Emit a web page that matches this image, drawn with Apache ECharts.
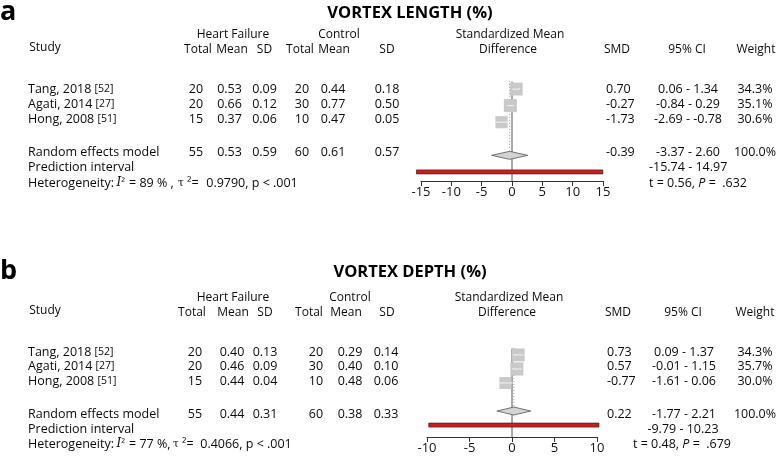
<!DOCTYPE html>
<html><head><meta charset="utf-8">
<script src="https://cdn.jsdelivr.net/npm/echarts@6/dist/echarts.min.js"></script>
<style>html,body{margin:0;padding:0;background:#fff}#c{width:780px;height:456px}</style>
</head><body><div id="c"></div><script>
// ---------- DATA ----------
const studyNames = ['Tang, 2018', 'Agati, 2014', 'Hong, 2008'];
const studyRefs = ['[52]', '[27]', '[51]'];

// Panel a: VORTEX LENGTH (%)
const lenHfTotal = [20, 20, 15];
const lenHfMean = [0.53, 0.66, 0.37];
const lenHfSD = [0.09, 0.12, 0.06];
const lenCtTotal = [20, 30, 10];
const lenCtMean = [0.44, 0.77, 0.47];
const lenCtSD = [0.18, 0.50, 0.05];
const lenSMD = [0.70, -0.27, -1.73];
const lenLo = [0.06, -0.84, -2.69];
const lenHi = [1.34, 0.29, -0.78];
const lenWeight = [34.3, 35.1, 30.6];
const lenPooledRow = [55, 0.53, 0.59, 60, 0.61, 0.57];
const lenPooled = [-0.39, -3.37, 2.60];
const lenPred = [-15.74, 14.97];
const lenTest = ['0.56', '.632'];
const lenHet = ['89', '0.9790', '< .001'];
const lenTicks = [-15, 15, 5];

// Panel b: VORTEX DEPTH (%)
const depHfTotal = [20, 20, 15];
const depHfMean = [0.40, 0.46, 0.44];
const depHfSD = [0.13, 0.09, 0.04];
const depCtTotal = [20, 30, 10];
const depCtMean = [0.29, 0.40, 0.48];
const depCtSD = [0.14, 0.10, 0.06];
const depSMD = [0.73, 0.57, -0.77];
const depLo = [0.09, -0.01, -1.61];
const depHi = [1.37, 1.15, 0.06];
const depWeight = [34.3, 35.7, 30.0];
const depPooledRow = [55, 0.44, 0.31, 60, 0.38, 0.33];
const depPooled = [0.22, -1.77, 2.21];
const depPred = [-9.79, 10.23];
const depTest = ['0.48', '.679'];
const depHet = ['77', '0.4066', '< .001'];
const depTicks = [-10, 10, 5];

// ---------- LAYOUT ----------
const FF = '"Open Sans", sans-serif';
const FS = 12.5;
const HFS = 12;
const INK = '#0a0a0a';
const panels = [
  { letter: 'a', title: 'VORTEX LENGTH (%)', letterY: 12, titleY: 13, h1: 35, h2: 50,
    rowsY: [89, 104, 119, 152, 167, 183],
    grid: { left: 421, width: 182, top: 75, height: 106 }, yMin: -0.85, yMax: 5.55,
    het: [113, 116.5, 129, 178, 203], hetSep: ' % ,',
    cols: { hfT: 196, hfM: 229.5, hfS: 264.5, ctT: 302, ctM: 333, ctS: 387, hfHead: 233, ctHead: 339,
            hfTH: 198, hfMH: 232, hfSH: 264.5, ctTH: 300, ctMH: 334, ctSH: 387,
            smd: 606, ci: 688, w: 755, smdH: 617, ciH: 687, wH: 756, sdmH: 510, predX: 649, testX: 649, testAlign: 'left' },
    d: { hfT: lenHfTotal, hfM: lenHfMean, hfS: lenHfSD, ctT: lenCtTotal, ctM: lenCtMean, ctS: lenCtSD,
         smd: lenSMD, lo: lenLo, hi: lenHi, w: lenWeight, pr: lenPooledRow, pooled: lenPooled, pred: lenPred,
         test: lenTest, het: lenHet, ticks: lenTicks } },
  { letter: 'b', title: 'VORTEX DEPTH (%)', letterY: 271, titleY: 272, h1: 298, h2: 313,
    rowsY: [352, 366, 381, 414, 429, 444],
    grid: { left: 427, width: 170, top: 343, height: 94 }, yMin: -0.85, yMax: 5.85,
    het: [113, 116.5, 129, 173, 197], hetSep: ' %,',
    cols: { hfT: 195, hfM: 232, hfS: 265, ctT: 316, ctM: 350, ctS: 386, hfHead: 233, ctHead: 350,
            hfTH: 192, hfMH: 233, hfSH: 265, ctTH: 309, ctMH: 346, ctSH: 387,
            smd: 607, ci: 684, w: 755, smdH: 618, ciH: 683, wH: 755, sdmH: 509, predX: 683, testX: 682, testAlign: 'center' },
    d: { hfT: depHfTotal, hfM: depHfMean, hfS: depHfSD, ctT: depCtTotal, ctM: depCtMean, ctS: depCtSD,
         smd: depSMD, lo: depLo, hi: depHi, w: depWeight, pr: depPooledRow, pooled: depPooled, pred: depPred,
         test: depTest, het: depHet, ticks: depTicks } }
];

const f2 = v => v.toFixed(2);
function txt(x, y, text, opts) {
  opts = opts || {};
  return { type: 'text', x: x, y: y, silent: true,
    style: { text: text, fill: opts.fill || INK, font: opts.font || (FS + 'px ' + FF),
      textAlign: opts.align || 'center', textVerticalAlign: 'middle', rich: opts.rich } };
}
const hdr = (x, y, t) => txt(x, y, t, { font: HFS + 'px ' + FF });

const graphics = [];
const grids = [], xAxes = [], yAxes = [], series = [];

panels.forEach((p, gi) => {
  const c = p.cols, d = p.d, R = p.rowsY;
  graphics.push(txt(0, p.letterY, p.letter, { align: 'left', font: 'bold 27px ' + FF, fill: '#000' }));
  graphics.push(txt(410, p.titleY, p.title, { font: 'bold 16.5px ' + FF, fill: '#000' }));
  graphics.push(hdr(c.hfHead, p.h1, 'Heart Failure'));
  graphics.push(hdr(c.ctHead, p.h1, 'Control'));
  graphics.push(hdr(c.sdmH, p.h1, 'Standardized Mean'));
  graphics.push(hdr(c.sdmH - 2, p.h2, 'Difference'));
  graphics.push(hdr(28 + 17, (p.h1 + p.h2) / 2 + 5, 'Study'));
  graphics.push(hdr(c.hfTH, p.h2, 'Total'));
  graphics.push(hdr(c.hfMH, p.h2, 'Mean'));
  graphics.push(hdr(c.hfSH, p.h2, 'SD'));
  graphics.push(hdr(c.ctTH, p.h2, 'Total'));
  graphics.push(hdr(c.ctMH, p.h2, 'Mean'));
  graphics.push(hdr(c.ctSH, p.h2, 'SD'));
  graphics.push(hdr(c.smdH, p.h2, 'SMD'));
  graphics.push(hdr(c.ciH, p.h2, '95% CI'));
  graphics.push(hdr(c.wH, p.h2, 'Weight'));

  for (let i = 0; i < studyNames.length; i++) {
    const y = R[i];
    graphics.push(txt(28, y, '{n|' + studyNames[i] + ' }{r|' + studyRefs[i] + '}', { align: 'left',
      rich: { n: { font: FS + 'px ' + FF, fill: INK }, r: { font: '10.5px ' + FF, fill: INK } } }));
    graphics.push(txt(c.hfT, y, String(d.hfT[i])));
    graphics.push(txt(c.hfM, y, f2(d.hfM[i])));
    graphics.push(txt(c.hfS, y, f2(d.hfS[i])));
    graphics.push(txt(c.ctT, y, String(d.ctT[i])));
    graphics.push(txt(c.ctM, y, f2(d.ctM[i])));
    graphics.push(txt(c.ctS, y, f2(d.ctS[i])));
    graphics.push(txt(c.smd, y, f2(d.smd[i]), { align: 'left' }));
    graphics.push(txt(c.ci, y, f2(d.lo[i]) + ' - ' + f2(d.hi[i])));
    graphics.push(txt(c.w, y, d.w[i].toFixed(1) + '%'));
  }
  // pooled row
  const yp = R[3];
  graphics.push(txt(28, yp, 'Random effects model', { align: 'left' }));
  graphics.push(txt(c.hfT, yp, String(d.pr[0])));
  graphics.push(txt(c.hfM, yp, f2(d.pr[1])));
  graphics.push(txt(c.hfS, yp, f2(d.pr[2])));
  graphics.push(txt(c.ctT, yp, String(d.pr[3])));
  graphics.push(txt(c.ctM, yp, f2(d.pr[4])));
  graphics.push(txt(c.ctS, yp, f2(d.pr[5])));
  graphics.push(txt(c.smd, yp, f2(d.pooled[0]), { align: 'left' }));
  graphics.push(txt(c.ci, yp, f2(d.pooled[1]) + ' - ' + f2(d.pooled[2])));
  const wsum = d.w.reduce((a, b) => a + b, 0);
  graphics.push(txt(c.w, yp, (Math.round(wsum)).toFixed(1) + '%'));
  // prediction
  graphics.push(txt(28, R[4], 'Prediction interval', { align: 'left' }));
  graphics.push(txt(c.predX, R[4], f2(d.pred[0]) + ' - ' + f2(d.pred[1]), { align: gi === 0 ? 'left' : 'center' }));
  // heterogeneity (pieces placed along the line)
  const H = p.het, yh = R[5];
  graphics.push(txt(28, yh, 'Heterogeneity:', { align: 'left' }));
  graphics.push(txt(H[1], yh, '{i|I}{s|²}', { align: 'left',
    rich: { i: { font: 'italic 12px "DejaVu Serif", serif', fill: INK }, s: { font: '11px ' + FF, fill: INK } } }));
  graphics.push(txt(H[2], yh, '= ' + d.het[0] + p.hetSep, { align: 'left' }));
  graphics.push(txt(H[3], yh, '{t|τ}{n| ²=}', { align: 'left',
    rich: { t: { font: '10.5px "DejaVu Serif", serif', fill: INK }, n: { font: FS + 'px ' + FF, fill: INK } } }));
  graphics.push(txt(H[4], yh, ' ' + d.het[1] + ', p ' + d.het[2], { align: 'left' }));
  graphics.push(txt(c.testX, yh, '{n|t = ' + d.test[0] + ', }{i|P}{n| =  ' + d.test[1] + '}', {
    align: c.testAlign, rich: { n: { font: FS + 'px ' + FF, fill: INK }, i: { font: 'italic ' + FS + 'px ' + FF, fill: INK } } }));

  // ---- forest plot grid ----
  grids.push(Object.assign({ containLabel: false }, p.grid));
  xAxes.push({ type: 'value', gridIndex: gi, min: d.ticks[0], max: d.ticks[1], interval: d.ticks[2], position: 'bottom',
    axisLine: { show: true, onZero: false, lineStyle: { color: '#333', width: 1 } },
    axisTick: { show: true, length: 5, inside: false, lineStyle: { color: '#333' } },
    axisLabel: { color: '#111', fontSize: 13, fontFamily: FF, margin: 5 },
    splitLine: { show: false } });
  yAxes.push({ type: 'value', gridIndex: gi, inverse: true, min: p.yMin, max: p.yMax, show: false,
    axisLine: { onZero: false } });

  // reference line at 0 (solid) and pooled estimate (dotted)
  series.push({ type: 'line', xAxisIndex: gi, yAxisIndex: gi, data: [[0, -0.45], [0, p.yMax]], symbol: 'none', silent: true,
    lineStyle: { color: '#555', width: 1 }, z: 2 });
  series.push({ type: 'line', xAxisIndex: gi, yAxisIndex: gi, data: [[d.pooled[0], -0.5], [d.pooled[0], 3.7]], symbol: 'none', silent: true,
    lineStyle: { color: '#999', width: 1, type: [1, 2] }, z: 2 });

  // study squares with CI
  series.push({ type: 'custom', xAxisIndex: gi, yAxisIndex: gi, silent: true, clip: false, z: 5,
    data: d.smd.map((v, i) => [v, i, d.lo[i], d.hi[i], d.w[i]]),
    encode: { x: 0, y: 1 },
    renderItem: function (params, api) {
      const ctr = api.coord([api.value(0), api.value(1)]);
      const s = 2.2 * Math.sqrt(api.value(4));
      const l = api.coord([api.value(2), api.value(1)]);
      const h = api.coord([api.value(3), api.value(1)]);
      return { type: 'group', children: [
        { type: 'rect', shape: { x: ctr[0] - s / 2, y: ctr[1] - s / 2, width: s, height: s }, style: { fill: '#c9c9c9' } },
        { type: 'line', shape: { x1: l[0], y1: ctr[1], x2: h[0], y2: ctr[1] }, style: { stroke: '#f4f4f4', lineWidth: 1 } }
      ] };
    } });

  // pooled diamond
  series.push({ type: 'custom', xAxisIndex: gi, yAxisIndex: gi, silent: true, clip: false, z: 6,
    data: [[d.pooled[0], 4, d.pooled[1], d.pooled[2]]],
    encode: { x: 0, y: 1 },
    renderItem: function (params, api) {
      const e = api.coord([api.value(0), api.value(1)]);
      const l = api.coord([api.value(2), api.value(1)]);
      const h = api.coord([api.value(3), api.value(1)]);
      const hh = 4;
      return { type: 'polygon', shape: { points: [[l[0], e[1]], [e[0], e[1] - hh], [h[0], e[1]], [e[0], e[1] + hh]] },
        style: { fill: '#d3d3d3', stroke: '#555', lineWidth: 0.8 } };
    } });

  // prediction interval bar
  series.push({ type: 'custom', xAxisIndex: gi, yAxisIndex: gi, silent: true, clip: false, z: 7,
    data: [[d.pred[0], 5, d.pred[1]]],
    encode: { x: [0, 2], y: 1 },
    renderItem: function (params, api) {
      const l = api.coord([api.value(0), api.value(1)]);
      const h = api.coord([api.value(2), api.value(1)]);
      return { type: 'rect', shape: { x: l[0], y: l[1] - 2, width: h[0] - l[0], height: 4 },
        style: { fill: '#d01c1c', stroke: '#3a2020', lineWidth: 0.7 } };
    } });
});

const chart = echarts.init(document.getElementById('c'), null, { renderer: 'canvas' });
chart.setOption({
  animation: false,
  backgroundColor: '#fff',
  grid: grids, xAxis: xAxes, yAxis: yAxes, series: series,
  graphic: { elements: graphics }
});
</script></body></html>
